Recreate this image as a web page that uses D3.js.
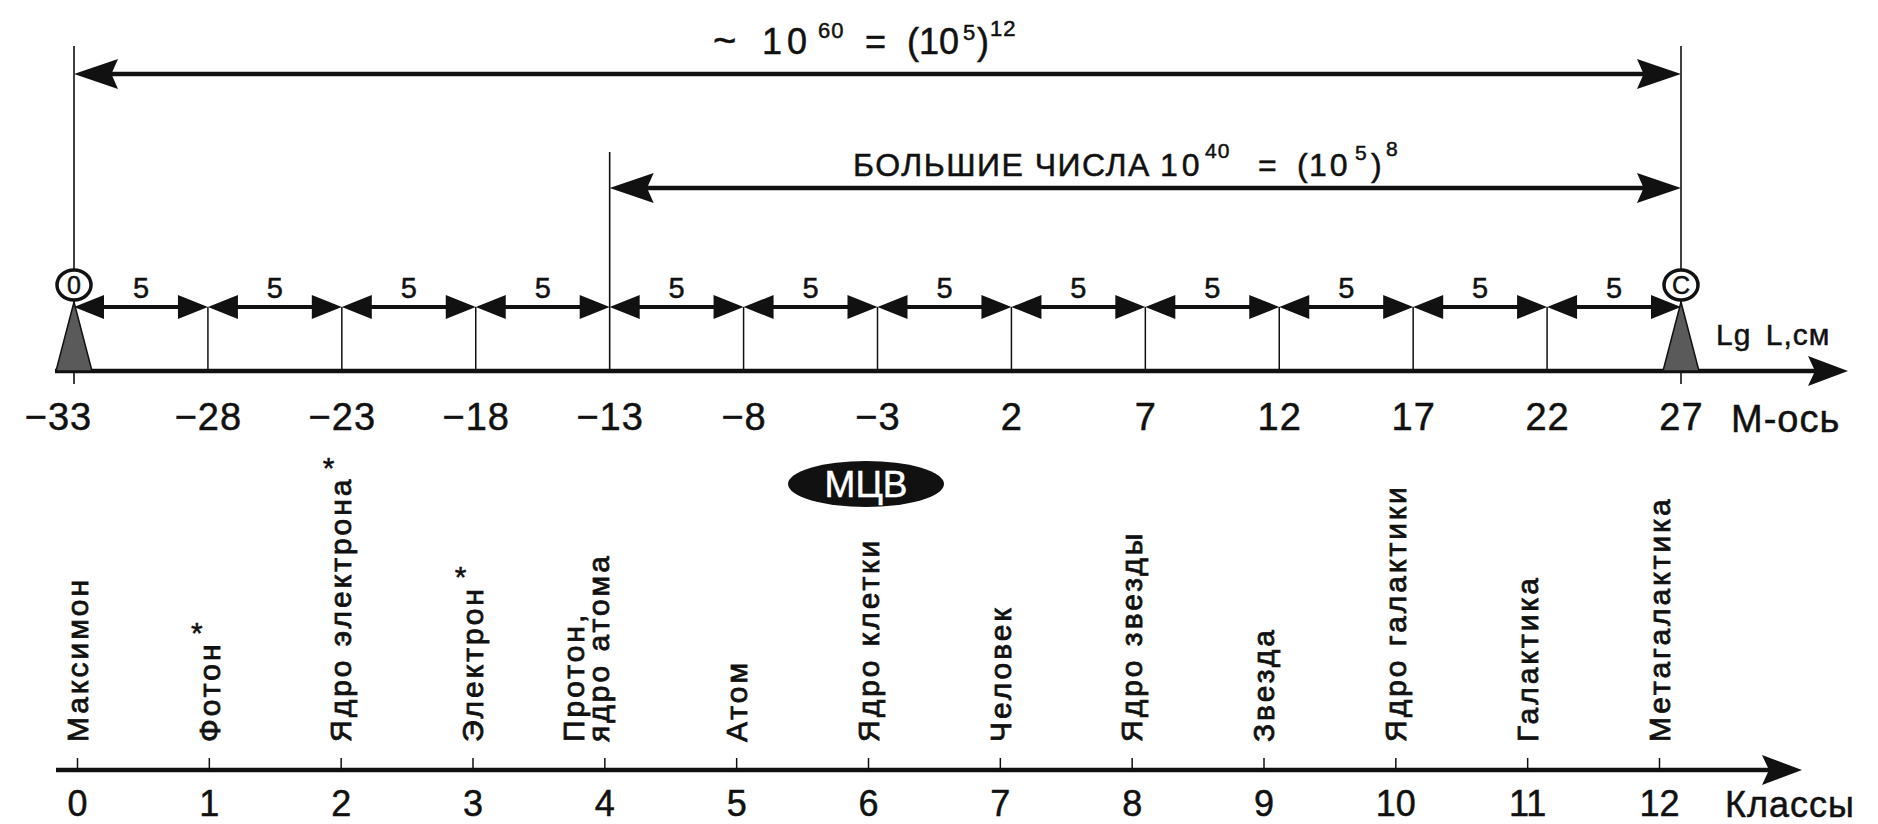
<!DOCTYPE html>
<html><head><meta charset="utf-8">
<script src="https://cdn.jsdelivr.net/npm/d3@7"></script>
<style>
body{margin:0;background:#fff}
svg text{font-family:"Liberation Sans",Arial,Helvetica,sans-serif;fill:#111;stroke:#111;stroke-width:0.5px}
</style>
</head><body>
<svg id="c" width="1878" height="824"></svg>
<script>
// ---- data ----
const mTicks = [-33,-28,-23,-18,-13,-8,-3,2,7,12,17,22,27];
const classIdx = [0,1,2,3,4,5,6,7,8,9,10,11,12];
const classNames = [["Максимон"],["Фотон"],["Ядро электрона"],["Электрон"],["Протон,","ядро атома"],["Атом"],["Ядро клетки"],["Человек"],["Ядро звезды"],["Звезда"],["Ядро галактики"],["Галактика"],["Метагалактика"]];
const starred = [0,1,1,1,0,0,0,0,0,0,0,0,0];
const endMarks = [{lg:-33, mark:"0"},{lg:27, mark:"C"}];
const spanAll = [-33, 27];
const spanBig = [-13, 27];
const mcvClass = 6;

// ---- layout ----
const svg = d3.select("#c");
const x = d3.scaleLinear().domain([-33,27]).range([74,1681]);
const cx = d3.scaleLinear().domain([0,12]).range([77,1659]);
const yTop = 74, yBig = 188, ySeg = 307, yAxis = 371, yClass = 770;
const ink = "#111";

function head(tip, y, dir, L, h, notch){
  const b = tip - dir*L, n = tip - dir*L*notch;
  return `M${tip},${y}L${b},${y-h}L${n},${y}L${b},${y+h}Z`;
}

// vertical guide lines
[spanAll[0], spanAll[1]].forEach(v=>
  svg.append("line").attr("x1",x(v)).attr("x2",x(v)).attr("y1",46).attr("y2",384).attr("stroke",ink).attr("stroke-width",1.6));
svg.append("line").attr("x1",x(spanBig[0])).attr("x2",x(spanBig[0])).attr("y1",152).attr("y2",yAxis).attr("stroke",ink).attr("stroke-width",1.6);

// double arrows
function dbl(a,b,y,L,h,notch,sw){
  svg.append("line").attr("x1",x(a)+L*0.5).attr("x2",x(b)-L*0.5).attr("y1",y).attr("y2",y).attr("stroke",ink).attr("stroke-width",sw);
  svg.append("path").attr("d",head(x(a),y,-1,L,h,notch)).attr("fill",ink);
  svg.append("path").attr("d",head(x(b),y,1,L,h,notch)).attr("fill",ink);
}
dbl(spanAll[0],spanAll[1],yTop,44,15,0.85,4.5);
dbl(spanBig[0],spanBig[1],yBig,44,15,0.85,4.5);

// formulas  [text, x, y, font-size, letter-spacing]
const f1 = svg.append("text");
[["~",713,54,40,0],["10",762,54,36,5],["60",818,38,22,1],["=",865,54,36,0],["(",907,54,36,0],["10",919,54,36,0],["5",963,40,22,0],[")",977,54,36,0],["12",990,36,22,1]]
 .forEach(p=>f1.append("tspan").attr("x",p[1]).attr("y",p[2]).attr("font-size",p[3]).attr("letter-spacing",p[4]).text(p[0]));
const f2 = svg.append("text");
[["БОЛЬШИЕ ЧИСЛА",853,176,32,1.5],["10",1160,176,32,4],["40",1205,158,21,1],["=",1258,176,32,0],["(",1297,176,32,0],["10",1309,176,32,3],["5",1355,160,21,0],[")",1371,176,32,0],["8",1386,156,21,0]]
 .forEach(p=>f2.append("tspan").attr("x",p[1]).attr("y",p[2]).attr("font-size",p[3]).attr("letter-spacing",p[4]).text(p[0]));

// segment tick lines
svg.selectAll(".segtick").data(mTicks.filter(t=>t!==spanAll[0]&&t!==spanAll[1]&&t!==spanBig[0]))
  .join("line").attr("x1",d=>x(d)).attr("x2",d=>x(d)).attr("y1",ySeg).attr("y2",yAxis).attr("stroke",ink).attr("stroke-width",1.5);

// segment double arrows with step labels
const segs = d3.pairs(mTicks);
segs.forEach(([a,b])=>{
  svg.append("line").attr("x1",x(a)+10).attr("x2",x(b)-10).attr("y1",ySeg).attr("y2",ySeg).attr("stroke",ink).attr("stroke-width",4);
  svg.append("path").attr("d",head(x(a),ySeg,-1,30,12,1)).attr("fill",ink);
  svg.append("path").attr("d",head(x(b),ySeg,1,30,12,1)).attr("fill",ink);
});
svg.selectAll(".seglab").data(segs).join("text")
  .attr("x",d=>(x(d[0])+x(d[1]))/2).attr("y",298).attr("text-anchor","middle").attr("font-size",29)
  .text(d=>d[1]-d[0]);

// M axis line + arrow
svg.append("line").attr("x1",55).attr("x2",1820).attr("y1",yAxis).attr("y2",yAxis).attr("stroke",ink).attr("stroke-width",4.5);
svg.append("path").attr("d",`M1848,${yAxis}L1808,${yAxis-15}L1815,${yAxis}L1808,${yAxis+15}Z`).attr("fill",ink);

// endpoint triangles + ellipses
svg.selectAll(".tri").data(endMarks).join("path")
  .attr("d",d=>`M${x(d.lg)-18},${yAxis}L${x(d.lg)},${302}L${x(d.lg)+18},${yAxis}Z`)
  .attr("fill","#5a5a5a").attr("stroke",ink).attr("stroke-width",1.5);
svg.selectAll(".ell").data(endMarks).join("ellipse")
  .attr("cx",d=>x(d.lg)).attr("cy",285).attr("rx",17).attr("ry",15)
  .attr("fill","#fff").attr("stroke",ink).attr("stroke-width",3.5);
svg.selectAll(".elt").data(endMarks).join("text")
  .attr("x",d=>x(d.lg)).attr("y",285).attr("dy","0.36em").attr("text-anchor","middle").attr("font-size",25)
  .text(d=>d.mark);

svg.append("text").attr("x",1716).attr("y",345).attr("font-size",30).attr("letter-spacing",1).attr("word-spacing",5).text("Lg L,см");

// M axis labels
const mAxis = svg.append("g").attr("transform",`translate(0,${yAxis})`)
  .call(d3.axisBottom(x).tickValues(mTicks).tickSize(0).tickPadding(32).tickFormat(d=>d<0?"−"+(-d):String(d)));
mAxis.select(".domain").remove();
mAxis.attr("font-family",null).attr("font-size",null);
mAxis.selectAll("text").attr("font-size",38).attr("letter-spacing",1).style("fill",ink)
  .attr("dx",d=>d===mTicks[0]?-16:0);
svg.append("text").attr("x",1731).attr("y",432).attr("font-size",38).attr("letter-spacing",1).text("М-ось");

// МЦВ badge
svg.append("ellipse").attr("cx",cx(mcvClass)-2).attr("cy",484).attr("rx",78).attr("ry",23).attr("fill",ink);
svg.append("text").attr("x",cx(mcvClass)-2).attr("y",484).attr("dy","0.36em").attr("text-anchor","middle").attr("font-size",37)
  .style("fill","#fff").style("stroke","#fff").text("МЦВ");

// class labels (rotated)
const fsL = 30, yLab = 742;
const lab = svg.selectAll(".cl").data(classIdx).join("g")
  .attr("transform",d=>`translate(${cx(d)},${yLab}) rotate(-90)`);
lab.each(function(d){
  const g = d3.select(this), lines = classNames[d], n = lines.length;
  lines.forEach((ln,j)=>{
    const t = g.append("text").attr("x",0).attr("y",(j-(n-1))*25 - (n>1?6:0)).attr("dy","0.36em")
      .attr("font-size",fsL).attr("letter-spacing",3).style("stroke-width","0.8px").text(ln);
    if (j===n-1 && starred[d]) {
      const L = t.node().getComputedTextLength();
      svg.append("text").attr("x",cx(d)-12).attr("y",yLab-L-16+0.58*fsL)
        .attr("text-anchor","middle").attr("font-size",fsL).text("*");
    }
  });
});

// class axis
svg.append("line").attr("x1",56).attr("x2",1775).attr("y1",yClass).attr("y2",yClass).attr("stroke",ink).attr("stroke-width",4.5);
svg.append("path").attr("d",`M1802,${yClass}L1762,${yClass-15}L1769,${yClass}L1762,${yClass+15}Z`).attr("fill",ink);
const cAxis = svg.append("g").attr("transform",`translate(0,${yClass})`)
  .call(d3.axisBottom(cx).tickValues(classIdx).tickSizeInner(-12).tickSizeOuter(0).tickPadding(20).tickFormat(d3.format("d")));
cAxis.select(".domain").remove();
cAxis.attr("font-family",null).attr("font-size",null);
cAxis.selectAll("line").attr("stroke",ink).attr("stroke-width",1.5);
cAxis.selectAll("text").attr("font-size",36).style("fill",ink);
svg.append("text").attr("x",1725).attr("y",817).attr("font-size",36).attr("letter-spacing",1).text("Классы");
</script>
</body></html>
